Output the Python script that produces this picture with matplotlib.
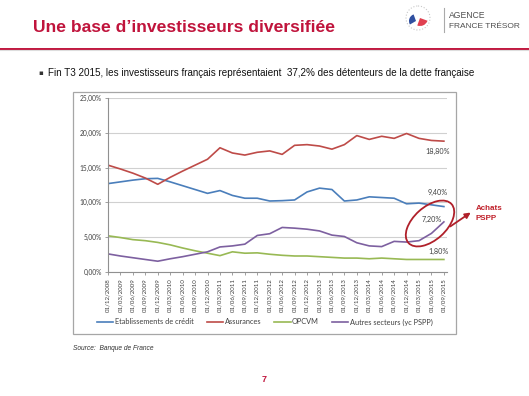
import matplotlib
matplotlib.use("Agg")
import matplotlib.pyplot as plt
from matplotlib.patches import Rectangle, Ellipse, Circle, Wedge
from matplotlib.ticker import FuncFormatter

dates = ["01/12/2008",
         "01/03/2009", "01/06/2009", "01/09/2009", "01/12/2009",
         "01/03/2010", "01/06/2010", "01/09/2010", "01/12/2010",
         "01/03/2011", "01/06/2011", "01/09/2011", "01/12/2011",
         "01/03/2012", "01/06/2012", "01/09/2012", "01/12/2012",
         "01/03/2013", "01/06/2013", "01/09/2013", "01/12/2013",
         "01/03/2014", "01/06/2014", "01/09/2014", "01/12/2014",
         "01/03/2015", "01/06/2015", "01/09/2015"]

etablissements = [12.7, 12.95, 13.2, 13.4, 13.45, 12.95, 12.4, 11.85, 11.3, 11.7,
                  11.0, 10.6, 10.6, 10.2, 10.25, 10.35, 11.5, 12.05, 11.85, 10.2,
                  10.35, 10.8, 10.7, 10.6, 9.8, 9.9, 9.65, 9.4]
assurances = [15.35, 14.8, 14.2, 13.5, 12.6, 13.6, 14.5, 15.35, 16.2, 17.85,
              17.1, 16.8, 17.2, 17.4, 16.9, 18.2, 18.3, 18.1, 17.65, 18.3,
              19.6, 19.05, 19.5, 19.2, 19.9, 19.2, 18.9, 18.8]
opcvm = [5.2, 4.95, 4.65, 4.5, 4.25, 3.9, 3.45, 3.05, 2.7, 2.35,
         2.9, 2.7, 2.75, 2.55, 2.4, 2.3, 2.3, 2.2, 2.1, 2.0,
         2.0, 1.9, 2.0, 1.9, 1.8, 1.8, 1.8, 1.8]
autres = [2.6, 2.3, 2.05, 1.8, 1.55, 1.9, 2.2, 2.55, 2.9, 3.6,
          3.75, 4.0, 5.25, 5.5, 6.4, 6.3, 6.15, 5.9, 5.3, 5.1,
          4.2, 3.75, 3.65, 4.4, 4.3, 4.5, 5.55, 7.2]

series_names = ["Etablissements de crédit", "Assurances", "OPCVM", "Autres secteurs (yc PSPP)"]
series_colors = ["#4A7EBB", "#BE4B48", "#98B954", "#7D60A0"]
end_labels = ["9,40%", "18,80%", "1,80%", "7,20%"]
yticks = [0, 5, 10, 15, 20, 25]

W, H = 529, 396
fig = plt.figure(figsize=(W / 100, H / 100), dpi=100)
fig.patch.set_facecolor("white")

crimson = "#C0143C"
slide_font = "Liberation Sans"
chart_font = "Lato"

# overlay axes in pixel coordinates
ov = fig.add_axes([0, 0, 1, 1], zorder=0)
ov.set_xlim(0, W)
ov.set_ylim(H, 0)
ov.axis("off")

# title & header line
ov.text(33, 27, "Une base d\u2019investisseurs diversifiée", color=crimson, fontsize=12.6,
        fontweight="bold", family=slide_font, va="center", ha="left")
ov.plot([0, W], [48.5, 48.5], color=crimson, lw=1.4, solid_capstyle="butt")
ov.plot([0, W], [50, 50], color="#dddddd", lw=0.8)

# logo
ov.add_patch(Circle((418, 18), 12, fill=False, ec="#c8c8c8", lw=0.8, ls=":"))
ov.add_patch(Wedge((420, 18), 8, 20, 110, fc="#E04050", ec="none"))
ov.add_patch(Wedge((416, 21), 7, 150, 250, fc="#3050A0", ec="none"))
ov.plot([443.5, 443.5], [8, 32], color="#aaaaaa", lw=0.8)
ov.text(449, 15.5, "AGENCE", fontsize=6.2, color="#505050", family=slide_font, va="center")
ov.text(449, 27, "FRANCE TRÉSOR", fontsize=6.0, color="#505050", family=slide_font, va="center")

# bullet
ov.text(38, 73, "\u25aa", fontsize=5, color="#333333", family="DejaVu Sans", va="center")
ov.text(48, 73, "Fin T3 2015, les investisseurs français représentaient  37,2% des détenteurs de la dette française",
        fontsize=7.15, color="#111111", family=slide_font, va="center")

# chart box
ov.add_patch(Rectangle((73, 92), 383, 242, fill=False, ec="#a6a6a6", lw=0.9))

# source and page number
ov.text(73, 348, "Source:  Banque de France", fontsize=4.8, style="italic",
        color="#333333", family=slide_font, va="center")
ov.text(264, 380, "7", fontsize=6.5, fontweight="bold", color=crimson,
        family=slide_font, va="center", ha="center")

# main chart
ax = fig.add_axes([108 / W, 1 - 272 / H, (447 - 108) / W, (272 - 98) / H], zorder=2)
ax.set_facecolor("none")
x = list(range(len(dates)))
data = [etablissements, assurances, opcvm, autres]
handles = []
for vals, name, col in zip(data, series_names, series_colors):
    h, = ax.plot(x, vals, color=col, lw=1.2, label=name)
    handles.append(h)

ax.set_xlim(0, 27.25)
ax.set_ylim(0, 25)
ax.set_yticks(yticks)
ax.yaxis.set_major_formatter(FuncFormatter(lambda v, p: f"{v:.2f}%".replace(".", ",")))
ax.set_xticks(x)
ax.set_xticklabels(dates, rotation=90, fontsize=4.4, family=chart_font, color="#404040")
for t in ax.get_yticklabels():
    t.set_fontsize(4.8)
    t.set_family(chart_font)
    t.set_color("#404040")
ax.grid(axis="y", color="#d0d0d0", lw=0.8)
ax.set_axisbelow(True)
for s in ["top", "right"]:
    ax.spines[s].set_visible(False)
for s in ["left", "bottom"]:
    ax.spines[s].set_color("#909090")
    ax.spines[s].set_linewidth(0.8)
ax.tick_params(axis="both", length=2.5, width=0.6, color="#909090", pad=2)

# end-value labels
label_pos = [(26.5, 11.4), (26.5, 17.3), (26.6, 2.9), (26.0, 7.5)]
for (lx, ly), txt in zip(label_pos, end_labels):
    ax.text(lx, ly, txt, fontsize=5.2, family=chart_font, color="#404040",
            ha="center", va="center")

leg = fig.legend(handles=handles, loc="center", bbox_to_anchor=(265 / W, 1 - 322 / H),
                 ncol=4, frameon=False, prop={"family": chart_font, "size": 5.3},
                 handlelength=2.2, handletextpad=0.2, columnspacing=1.8)
for t in leg.get_texts():
    t.set_color("#404040")

# annotation: ellipse, arrow, text
ov2 = fig.add_axes([0, 0, 1, 1], zorder=3)
ov2.set_xlim(0, W)
ov2.set_ylim(H, 0)
ov2.axis("off")
ov2.patch.set_alpha(0)
ov2.add_patch(Ellipse((430, 223.5), 58, 33, angle=-42, fill=False, ec="#B0202A", lw=1.3))
ov2.annotate("", xy=(473, 211), xytext=(448, 228),
             arrowprops=dict(arrowstyle="-|>", color="#B0202A", lw=1.3, mutation_scale=8))
ov2.text(476, 209, "Achats", fontsize=5.8, fontweight="bold", color="#C0202A",
         family=slide_font, va="center")
ov2.text(476, 219, "PSPP", fontsize=5.8, fontweight="bold", color="#C0202A",
         family=slide_font, va="center")

fig.savefig("out.png", dpi=100, facecolor="white")
